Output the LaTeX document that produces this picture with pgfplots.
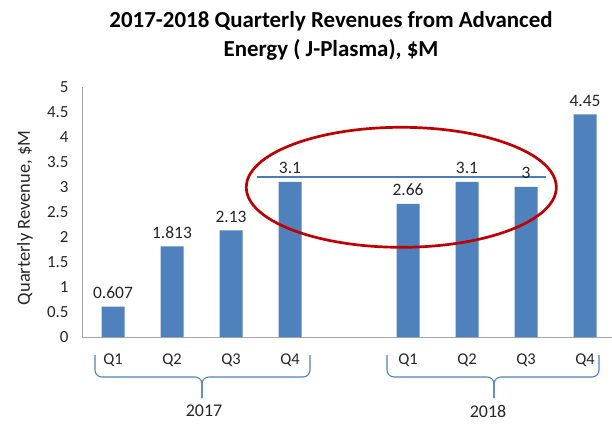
\documentclass[border=0pt]{standalone}
\usepackage{fontspec}
\setmainfont{Carlito}
\usepackage{pgfplots}
\pgfplotsset{compat=1.18}
\usetikzlibrary{calc}
\definecolor{barblue}{HTML}{4F81BD}
\definecolor{lineblue}{HTML}{4A7EBB}
\definecolor{ellred}{HTML}{C00000}
\definecolor{axgray}{HTML}{A6A6A6}
\begin{document}
\begin{tikzpicture}
\begin{axis}[
  x=59bp, y=50bp,
  xmin=-0.525, xmax=8.45, ymin=0, ymax=5,
  axis x line*=bottom, axis y line*=left,
  axis line style={axgray, line width=0.8bp, -},
  xtick={0,1,2,3,5,6,7,8},
  xticklabels={Q1,Q2,Q3,Q4,Q1,Q2,Q3,Q4},
  ytick={0,0.5,1,1.5,2,2.5,3,3.5,4,4.5,5},
  major tick length=0pt,
  tick label style={text=black!85},
  yticklabel style={font=\fontsize{17}{19}\selectfont, xshift=-10bp},
  xticklabel style={font=\fontsize{16.5}{19}\selectfont, yshift=-13bp},
  /pgf/number format/assume math mode=true,
  clip=false,
]
\coordinate (O) at (axis cs:0,0);
\addplot[ybar, bar width=23bp, fill=barblue, draw=none,
  point meta=explicit symbolic,
  nodes near coords,
  every node near coord/.append style={font=\fontsize{17.5}{19}\selectfont, text=black!85, yshift=4.5bp}]
  coordinates {(0,0.607) [0.607] (1,1.813) [1.813] (2,2.13) [2.13] (3,3.1) [3.1]
               (5,2.66) [2.66] (6,3.1) [3.1] (7,3) [3] (8,4.45) [4.45]};
\addplot[draw=lineblue, line width=1.3bp, mark=none] coordinates {(2.44,3.2) (7.34,3.2)};
\end{axis}
% title
\node[font=\bfseries\fontsize{23}{29}\selectfont, align=center] at ($(O)+(218bp,301.5bp)$)
  {2017-2018 Quarterly Revenues from Advanced\\Energy ( J-Plasma), \$M};
% y label
\node[rotate=90, font=\fontsize{18.5}{20}\selectfont, text=black!85] at ($(O)+(-88bp,119bp)$) {Quarterly Revenue,  \$M};
% ellipse
\draw[ellred, line width=2.7bp] ($(O)+(288.3bp,149.7bp)$) ellipse [x radius=155bp, y radius=60bp];
% braces
\draw[barblue, line width=1.1bp, rounded corners=7bp]
  ($(O)+(-18bp,-18bp)$) -- ($(O)+(-18bp,-40bp)$) -- ($(O)+(89bp,-40bp)$) -- ($(O)+(89bp,-61bp)$);
\draw[barblue, line width=1.1bp, rounded corners=7bp]
  ($(O)+(197bp,-18bp)$) -- ($(O)+(197bp,-40bp)$) -- ($(O)+(89bp,-40bp)$) -- ($(O)+(89bp,-61bp)$);
\draw[barblue, line width=1.1bp, rounded corners=7bp]
  ($(O)+(274bp,-18bp)$) -- ($(O)+(274bp,-40bp)$) -- ($(O)+(381bp,-40bp)$) -- ($(O)+(381bp,-61bp)$);
\draw[barblue, line width=1.1bp, rounded corners=7bp]
  ($(O)+(486bp,-18bp)$) -- ($(O)+(486bp,-40bp)$) -- ($(O)+(381bp,-40bp)$) -- ($(O)+(381bp,-61bp)$);
\node[font=\fontsize{18}{20}\selectfont, text=black!85] at ($(O)+(91bp,-74bp)$) {2017};
\node[font=\fontsize{18}{20}\selectfont, text=black!85] at ($(O)+(375bp,-74bp)$) {2018};
\pgfresetboundingbox
\path[use as bounding box] ($(O)+(-113bp,-93bp)$) rectangle ($(O)+(499bp,337bp)$);
\end{tikzpicture}
\end{document}
